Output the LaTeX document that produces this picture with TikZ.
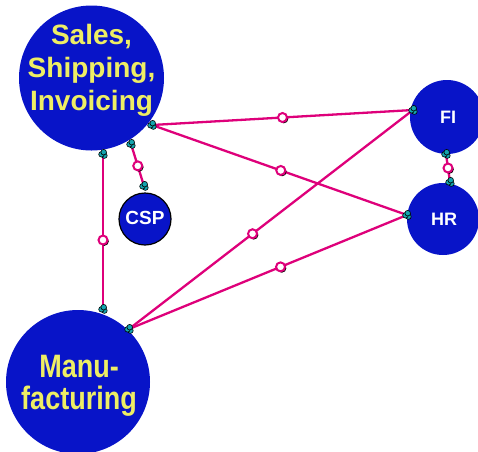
\documentclass[tikz,border=0pt]{standalone}
\usepackage{fontspec}
\setmainfont{Liberation Sans}
\usetikzlibrary{calc,shadows}
\definecolor{bblue}{RGB}{8,20,200}
\definecolor{ylw}{RGB}{238,238,100}
\definecolor{mag}{RGB}{222,0,122}
\definecolor{tealdot}{RGB}{20,165,175}
\tikzset{
  bigc/.style={circle, fill=bblue, inner sep=0pt, minimum size=#1},
  bigtext/.style={font=\fontsize{28}{33}\selectfont\bfseries, text=ylw, align=center, inner sep=0pt},
  smalltext/.style={font=\fontsize{18}{22}\selectfont\bfseries, text=white, inner sep=0pt},
  conn/.style={draw=mag, line width=2.3pt},
  ring/.style={circle, draw=mag, fill=white, line width=2pt, minimum size=9pt, inner sep=0pt,
     drop shadow={shadow xshift=1.3pt, shadow yshift=-1.3pt, opacity=1, fill=black}},
  tdot/.style={circle, fill=tealdot, draw=black, line width=0.6pt, minimum size=5.6pt, inner sep=0pt}
}
\newcommand{\dotcluster}[1]{%
  \node[tdot] (#1d1) at ($(#1)+(1.4,1.6)$) {};
  \node[tdot] (#1d2) at ($(#1)+(-1.5,0.3)$) {};
  \node[tdot] (#1d3) at ($(#1)+(0.7,-1.8)$) {};}
\begin{document}
\begin{tikzpicture}[x=1pt,y=-1pt]
\useasboundingbox (0,0) rectangle (478,451);
% circles
\node[bigc=145pt] (sales) at (91.5,78) {};
\node[bigc=144pt] (manu) at (78,382) {};
\node[bigc=52pt, draw=black, line width=1.2pt] (csp) at (145,219) {};
\node[bigc=74pt] (fi) at (447,117) {};
\node[bigc=72pt] (hr) at (443,219) {};
% texts
\node[bigtext] (salesT) at (91.5,70.5) {Sales,\\Shipping,\\Invoicing};
\node[bigtext] (manuT) at (79,387) {\scalebox{1}[1.2]{\fontsize{27}{23.5}\selectfont\bfseries\begin{tabular}{@{}c@{}}Manu-\\facturing\end{tabular}}};
\node[smalltext, font=\fontsize{19}{22}\selectfont\bfseries] (cspT) at (145,218) {CSP};
\node[smalltext] (fiT) at (448,117) {FI};
\node[smalltext] (hrT) at (444,219) {HR};
% connector ends
\coordinate (sA) at (152,125);
\coordinate (sB) at (131,144);
\coordinate (sC) at (103,154);
\coordinate (cT) at (144,186);
\coordinate (mA) at (103,309);
\coordinate (mB) at (129,329);
\coordinate (fL) at (413,110);
\coordinate (fB) at (446,154);
\coordinate (hL) at (407,215);
\coordinate (hT) at (450,182);
% connectors
\draw[conn] (sA) -- node[ring, pos=0.5] (r1) {} (fL);
\draw[conn] (sA) -- node[ring, pos=0.505] (r2) {} (hL);
\draw[conn] (sB) -- node[ring, pos=0.52] (r3) {} (cT);
\draw[conn] (sC) -- node[ring, pos=0.555] (r4) {} (mA);
\draw[conn] (mB) -- node[ring, pos=0.435] (r5) {} (fL);
\draw[conn] (mB) -- node[ring, pos=0.545] (r6) {} (hL);
\draw[conn] (fB) -- node[ring, pos=0.5] (r7) {} (hT);
% end markers
\dotcluster{sA}
\dotcluster{sB}
\dotcluster{sC}
\dotcluster{cT}
\dotcluster{mA}
\dotcluster{mB}
\dotcluster{fL}
\dotcluster{fB}
\dotcluster{hL}
\dotcluster{hT}
\end{tikzpicture}
\end{document}
